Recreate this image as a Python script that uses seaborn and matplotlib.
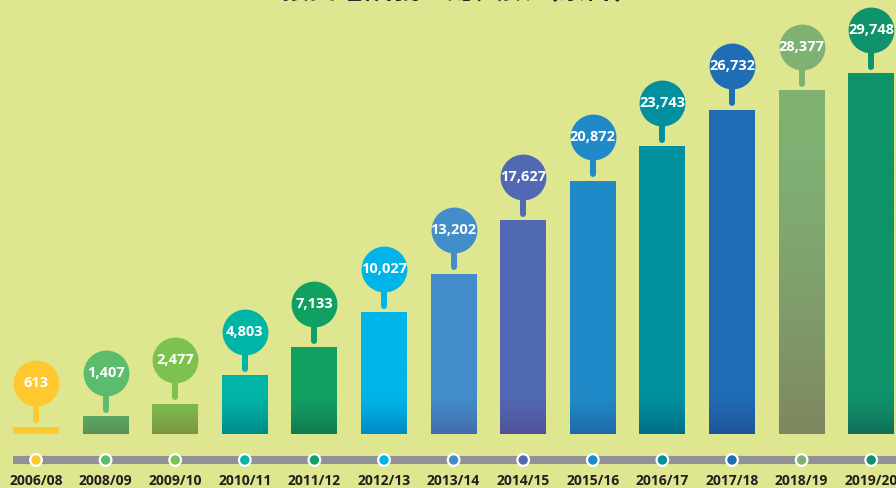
import numpy as np
import seaborn as sns
from matplotlib import pyplot as plt

# data
years = ['2006/08', '2008/09', '2009/10', '2010/11', '2011/12', '2012/13', '2013/14',
         '2014/15', '2015/16', '2016/17', '2017/18', '2018/19', '2019/20']
volunteers = [613, 1407, 2477, 4803, 7133, 10027, 13202, 17627, 20872, 23743, 26732, 28377, 29748]
colors = ['#FDC92F', '#5BBD6B', '#7DC24F', '#00B5A5', '#11A062', '#00B4E8', '#438DCA',
          '#5169B3', '#1F8AC7', '#00909E', '#1F6DB5', '#7FB173', '#10926A']
title = '接受培訓義工總人數（累計）'

bg = '#DEE78F'
sns.set_theme(style='white', rc={'axes.facecolor': bg, 'figure.facecolor': bg})
plt.rcParams['font.family'] = ['Open Sans', 'DejaVu Sans']

fig = plt.figure(figsize=(8.96, 4.88), dpi=100)
ax = fig.add_axes([0, 0, 1, 1])

ybot, ytop = -4462, 35862
dpp = (ytop - ybot) / 488.0  # data units per pixel
bw = 0.66

sns.barplot(x=years, y=volunteers, hue=years, palette=colors, legend=False,
            width=bw, saturation=1, edgecolor='none', linewidth=0, ax=ax, zorder=2)

# darker tint towards the bottom of each bar
fade = 40 * dpp
mult = np.array([1.0, 0.76, 0.84])
for i, (v, c) in enumerate(zip(volunteers, colors)):
    if i == 0:
        continue
    rgb = np.array(plt.matplotlib.colors.to_rgb(c))
    yy = np.linspace(v, 0, 200)
    f = fade if i != 11 else v * 0.9
    t = np.clip(1 - yy / f, 0, 1) ** 1.4
    img = rgb[None, :] * (1 - t[:, None] * (1 - mult[None, :]))
    ax.imshow(img[:, None, :], extent=[i - bw / 2, i + bw / 2, 0, v], aspect='auto',
              origin='upper', zorder=3, interpolation='bilinear')

# pins with values
for i, (v, c) in enumerate(zip(volunteers, colors)):
    ax.plot([i, i], [v + 7 * dpp, v + 40 * dpp], color=c, lw=4.3,
            solid_capstyle='round', zorder=4)
    ax.scatter([i], [v + 44 * dpp], s=1090, color=c, zorder=5, linewidths=0)
    ax.text(i, v + 44 * dpp, f'{v:,}', color='white', ha='center', va='center',
            fontsize=10.5, fontweight='bold', zorder=6)

# timeline
line_y = -26 * dpp
ax.plot([-bw / 2, len(years)], [line_y, line_y], color='#929196', lw=5.8,
        solid_capstyle='butt', zorder=2)
ax.scatter(range(len(years)), [line_y] * len(years), s=70, c=colors,
           edgecolors='white', linewidths=1.6, zorder=3)
for i, yr in enumerate(years):
    ax.text(i, -47 * dpp, yr, ha='center', va='center', fontsize=10,
            fontweight='bold', color='#231F20')

fig.text(0.515, 1.017, title, ha='center', va='center', fontsize=20,
         fontweight='bold', color='#231F20',
         family=['Noto Sans CJK TC', 'DejaVu Sans'])

ax.set_xlim(-36 / 69.6, (896 - 36) / 69.6)
ax.set_ylim(ybot, ytop)
ax.axis('off')

plt.savefig('out.png', dpi=100, facecolor=bg)
